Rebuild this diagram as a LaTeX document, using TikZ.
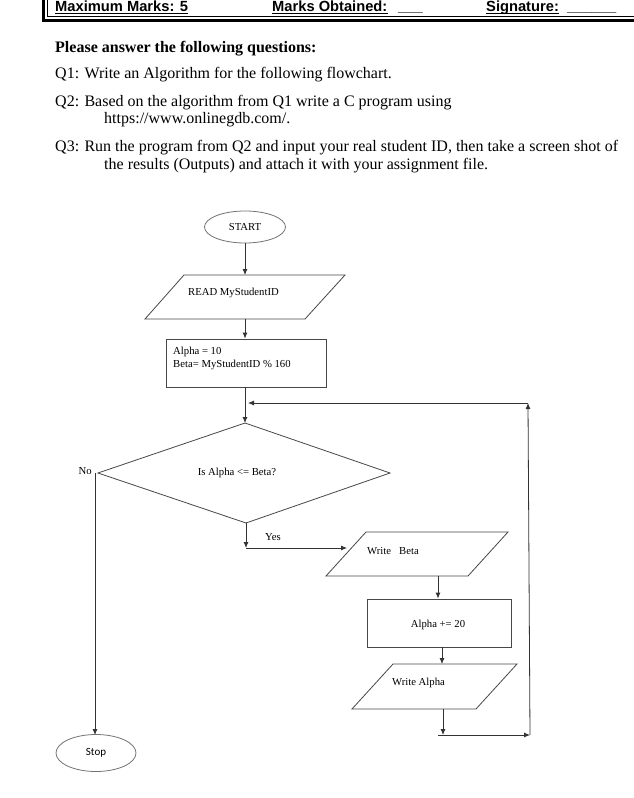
\documentclass[tikz,border=0pt]{standalone}
\usepackage{fontspec}
\setmainfont{Liberation Serif}
\newfontfamily\hdrfont{Liberation Sans}
\newfontfamily\calfont{Carlito}
\usetikzlibrary{arrows.meta,shapes.geometric}
\tikzset{
  fl/.style={draw=black!72, line width=0.8pt},
  arr/.style={draw=black!80, line width=0.8pt, -{Latex[length=6pt,width=5pt]}},
  ftxt/.style={font=\fontsize{10.7}{12.5}\selectfont, inner sep=0pt},
  qtxt/.style={font=\fontsize{16}{18.4}\selectfont, anchor=base west, inner sep=0pt},
  qbold/.style={qtxt, font=\fontsize{16}{18.4}\selectfont\bfseries},
  hdr/.style={font=\hdrfont\bfseries\fontsize{14.7}{16}\selectfont, anchor=base west, inner sep=0pt},
  boxnode/.style={draw=black!72, line width=0.8pt, rectangle, inner sep=0pt},
  ovalnode/.style={draw=black!55, line width=0.8pt, ellipse, inner sep=0pt},
  uline/.style={line width=1.3pt}
}
\begin{document}
\begin{tikzpicture}[x=1pt,y=-1pt]
\useasboundingbox (0,0) rectangle (633,798);
\fill[white] (0,0) rectangle (633,798);

% header box
\draw[line width=3pt] (43.5,-5) -- (43.5,20.5) -- (640,20.5);
\draw[line width=1pt] (47.5,-5) -- (47.5,16) -- (640,16);
\node[hdr] (hmax) at (55,11) {Maximum Marks: 5};
\draw[uline] ([yshift=-2.2pt]hmax.base west) -- ([yshift=-2.2pt]hmax.base east);
\node[hdr] (hobt) at (272,11) {Marks Obtained:};
\draw[uline] ([yshift=-2.2pt]hobt.base west) -- ([yshift=-2.2pt]hobt.base east);
\node[hdr] (hobtb) at (398,11) {\_\_\_};
\node[hdr] (hsig) at (486,11) {Signature:};
\draw[uline] ([yshift=-2.2pt]hsig.base west) -- ([yshift=-2.2pt]hsig.base east);
\node[hdr] (hsigb) at (567,11) {\_\_\_\_\_\_};

% questions
\node[qbold] (qh) at (55,52) {Please answer the following questions:};
\node[qtxt] (q1) at (55,78) {Q1: Write an Algorithm for the following flowchart.};
\node[qtxt] (q2) at (55,106) {Q2: Based on the algorithm from Q1 write a C program using};
\node[qtxt] (q2b) at (104,123) {https://www.onlinegdb.com/.};
\node[qtxt] (q3) at (55,151) {Q3: Run the program from Q2 and input your real student ID, then take a screen shot of};
\node[qtxt] (q3b) at (104,169) {the results (Outputs) and attach it with your assignment file.};

% START
\node[ovalnode, minimum width=81pt, minimum height=32pt, font=\fontsize{10.7}{12.5}\selectfont] (start) at (245,227) {START};

% READ parallelogram
\coordinate (rdT) at (245,275);
\coordinate (rdB) at (245,319);
\draw[fl] (145,319) -- (184,275) -- (345,275) -- (305,319) -- cycle;
\node[ftxt] (rd) at (233.5,293) {READ MyStudentID};

% init box
\node[boxnode, minimum width=160pt, minimum height=48pt] (init) at (246,363) {};
\node[ftxt, anchor=base west] (init1) at (173,354.5) {Alpha = 10};
\node[ftxt, anchor=base west] (init2) at (173,367) {Beta= MyStudentID \% 160};

% decision diamond
\coordinate (dT) at (245,423);
\coordinate (dR) at (390,473);
\coordinate (dB) at (246,523);
\coordinate (dL) at (98,473);
\draw[fl] (dT) -- (dR) -- (dB) -- (dL) -- cycle;
\node[ftxt] (dtxt) at (237,473) {Is Alpha <= Beta?};

% Write Beta
\coordinate (wbL) at (347,548);
\coordinate (wbB) at (438,576);
\draw[fl] (326,576) -- (366,532) -- (508,532) -- (468,576) -- cycle;
\node[ftxt] (wb) at (393,551) {Write\hspace{8pt}Beta};

% Alpha += 20
\node[boxnode, minimum width=144pt, minimum height=48pt] (acc) at (439,623) {};
\node[ftxt] (acctxt) at (438,625) {Alpha += 20};

% Write Alpha
\coordinate (waT) at (442,664);
\coordinate (waB) at (443,709);
\draw[fl] (352,709) -- (393,664) -- (517,664) -- (476,709) -- cycle;
\node[ftxt] (wa) at (418.5,683) {Write Alpha};

% Stop
\node[ovalnode, minimum width=80pt, minimum height=37pt, font=\calfont\fontsize{11}{13}\selectfont] (stop) at (96,753) {Stop};

% labels
\node[ftxt, anchor=east] (nolab) at (92,471) {No};
\node[ftxt] (yeslab) at (273,537) {Yes};

% connectors
\coordinate (yc) at (246,548);
\coordinate (lb) at (443,735);
\coordinate (lbl) at (438,735);
\coordinate (lr) at (530,735);
\coordinate (ur) at (528,403);
\coordinate (fb) at (248,403);
\coordinate (nL) at (95,473);
\coordinate (stopT) at (95,735);

\draw[arr] (start.south) -- (rdT);
\draw[arr] (rdB) -- (init.north -| rdB);
\draw[arr] (init.south -| dT) -- (dT);
\draw[arr] (dB) -- (yc);
\draw[arr] (yc) -- (wbL);
\draw[arr] (wbB) -- (acc.north -| wbB);
\draw[arr] (acc.south -| waT) -- (waT);
\draw[arr] (waB) -- (lb);
\draw[arr] (lbl) -- (lr);
\draw[arr] (lr) -- (ur);
\draw[arr] (ur) -- (fb);
\draw[arr] (nL) -- (stopT);
\end{tikzpicture}
\end{document}
